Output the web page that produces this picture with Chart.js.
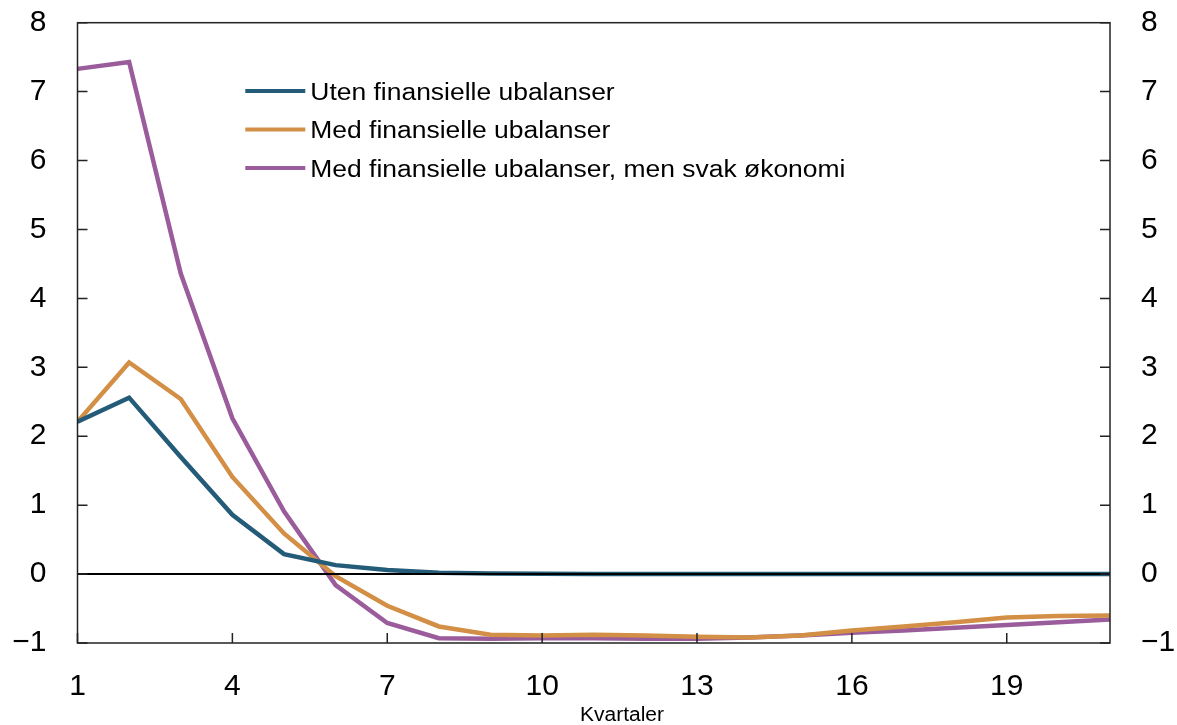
<!DOCTYPE html>
<html>
<head>
<meta charset="utf-8">
<script src="https://cdn.jsdelivr.net/npm/chart.js@4/dist/chart.umd.min.js"></script>
<style>
  html, body { margin: 0; padding: 0; background: #ffffff; }
  #wrap { width: 1177px; height: 725px; }
</style>
</head>
<body>
<div id="wrap"><canvas id="c" width="1177" height="725"></canvas></div>
<script>
// Quarters after the shock
const quarters = [1, 2, 3, 4, 5, 6, 7, 8, 9, 10, 11, 12, 13, 14, 15, 16, 17, 18, 19, 20, 21];
const xTickValues = [1, 4, 7, 10, 13, 16, 19];
const yTickValues = [-1, 0, 1, 2, 3, 4, 5, 6, 7, 8];

const seriesNames = [
  'Uten finansielle ubalanser',
  'Med finansielle ubalanser',
  'Med finansielle ubalanser, men svak økonomi'
];
const utenUbalanser = [2.21, 2.56, 1.70, 0.86, 0.29, 0.13, 0.06, 0.02, 0.01, 0.005, 0, 0, 0, 0, 0, 0, 0, 0, 0, 0, 0];
const medUbalanser = [2.21, 3.07, 2.54, 1.41, 0.59, -0.03, -0.46, -0.76, -0.88, -0.89, -0.88, -0.89, -0.91, -0.92, -0.89, -0.82, -0.76, -0.70, -0.63, -0.61, -0.60];
const svakOkonomi = [7.33, 7.43, 4.36, 2.26, 0.91, -0.16, -0.71, -0.93, -0.94, -0.93, -0.93, -0.94, -0.94, -0.92, -0.89, -0.85, -0.82, -0.78, -0.74, -0.70, -0.66];

const colors = ['#245b78', '#d28f45', '#9a5c9b'];
const FONT = '"Liberation Sans", Arial, Helvetica, sans-serif';

function pts(values) {
  return quarters.map((q, i) => ({ x: q, y: values[i] }));
}

function minusLabel(v) {
  return v < 0 ? '\u2212' + Math.abs(v) : String(v);
}

// Frame, inward ticks, zero line, in-plot legend and x-axis caption
const decorations = {
  id: 'decorations',
  afterDatasetsDraw(chart) {
    const ctx = chart.ctx;
    const a = chart.chartArea;
    const ys = chart.scales.y;
    const xs = chart.scales.x;
    ctx.save();

    // zero line
    const y0 = ys.getPixelForValue(0);
    ctx.strokeStyle = '#000000';
    ctx.lineWidth = 2;
    ctx.beginPath();
    ctx.moveTo(a.left, y0);
    ctx.lineTo(a.right, y0);
    ctx.stroke();

    // frame
    ctx.lineWidth = 1.5;
    ctx.strokeStyle = '#222222';
    ctx.strokeRect(a.left, a.top, a.right - a.left, a.bottom - a.top);

    // inward ticks
    ctx.beginPath();
    yTickValues.forEach(v => {
      const py = ys.getPixelForValue(v);
      ctx.moveTo(a.left, py); ctx.lineTo(a.left + 10, py);
      ctx.moveTo(a.right, py); ctx.lineTo(a.right - 10, py);
    });
    xTickValues.forEach(v => {
      const px = xs.getPixelForValue(v);
      ctx.moveTo(px, a.bottom); ctx.lineTo(px, a.bottom - 10);
    });
    ctx.stroke();

    // legend
    const lx0 = xs.getPixelForValue(4.25);
    const lineLen = 60;
    const rowY = [91, 129.5, 168];
    chart.data.datasets.forEach((ds, i) => {
      const ry = rowY[i];
      ctx.strokeStyle = ds.borderColor;
      ctx.lineWidth = 4;
      ctx.beginPath();
      ctx.moveTo(lx0, ry);
      ctx.lineTo(lx0 + lineLen, ry);
      ctx.stroke();
      ctx.save();
      ctx.translate(lx0 + lineLen + 5, ry + 8.5);
      ctx.scale(1.15, 1);
      ctx.fillStyle = '#000000';
      ctx.font = '23px ' + FONT;
      ctx.textAlign = 'left';
      ctx.textBaseline = 'alphabetic';
      ctx.fillText(ds.label, 0, 0);
      ctx.restore();
    });

    // x-axis caption
    ctx.save();
    ctx.translate(622, 721);
    ctx.scale(1.05, 1);
    ctx.fillStyle = '#000000';
    ctx.font = '20px ' + FONT;
    ctx.textAlign = 'center';
    ctx.textBaseline = 'alphabetic';
    ctx.fillText('Kvartaler', 0, 0);
    ctx.restore();

    ctx.restore();
  }
};

const yAxisBase = {
  type: 'linear',
  min: -1,
  max: 8,
  grid: { display: false, drawTicks: false },
  border: { display: false },
  afterBuildTicks(scale) { scale.ticks = yTickValues.map(v => ({ value: v })); },
  ticks: {
    padding: 31,
    color: '#000000',
    font: { family: FONT, size: 30 },
    callback: v => minusLabel(v)
  }
};

new Chart(document.getElementById('c'), {
  type: 'line',
  data: {
    datasets: [
      { label: seriesNames[0], data: pts(utenUbalanser), borderColor: colors[0] },
      { label: seriesNames[1], data: pts(medUbalanser), borderColor: colors[1] },
      { label: seriesNames[2], data: pts(svakOkonomi), borderColor: colors[2] }
    ].map(d => Object.assign(d, {
      borderWidth: 4.5,
      pointRadius: 0,
      tension: 0,
      fill: false,
      clip: 0,
      borderJoinStyle: 'miter'
    }))
  },
  options: {
    responsive: false,
    animation: false,
    devicePixelRatio: 1,
    layout: { padding: { top: 22.7, left: 0, right: 0, bottom: 0 } },
    plugins: {
      legend: { display: false },
      tooltip: { enabled: false }
    },
    scales: {
      x: {
        type: 'linear',
        position: 'bottom',
        min: 1,
        max: 21,
        grid: { display: false, drawTicks: false },
        border: { display: false },
        afterBuildTicks(scale) { scale.ticks = xTickValues.map(v => ({ value: v })); },
        afterFit(scale) {
          scale.height = 82;
          scale.paddingLeft = 0;
          scale.paddingRight = 0;
        },
        ticks: {
          padding: 26,
          maxRotation: 0,
          autoSkip: false,
          color: '#000000',
          font: { family: FONT, size: 30 }
        }
      },
      y: Object.assign({}, yAxisBase, {
        position: 'left',
        afterFit(scale) {
          scale.width = 77.5;
          scale.paddingTop = 0;
          scale.paddingBottom = 0;
        }
      }),
      y2: Object.assign({}, yAxisBase, {
        position: 'right',
        afterFit(scale) {
          scale.width = 67;
          scale.paddingTop = 0;
          scale.paddingBottom = 0;
        }
      })
    }
  },
  plugins: [decorations]
});
</script>
</body>
</html>
